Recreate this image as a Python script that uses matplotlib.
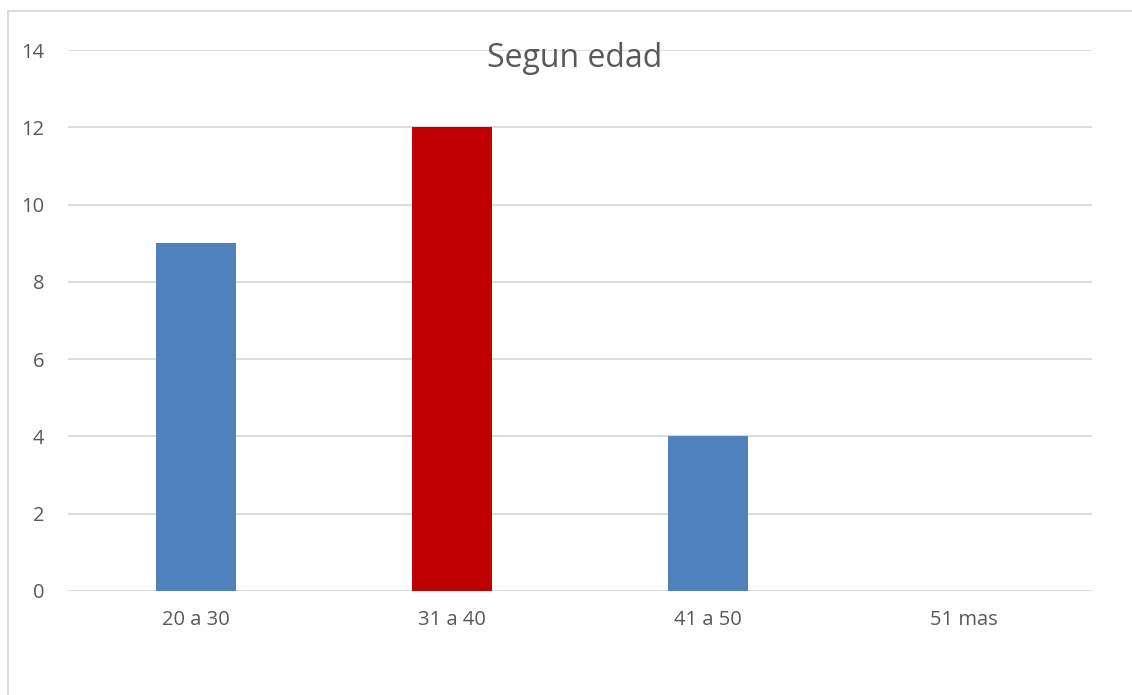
import matplotlib
matplotlib.use("Agg")
import matplotlib.pyplot as plt
from matplotlib.lines import Line2D

# data
categories = ["20 a 30", "31 a 40", "41 a 50", "51 mas"]
values = [9, 12, 4, 0]
bar_colors = ["#4f81bd", "#c00000", "#4f81bd", "#4f81bd"]
y_ticks = [0, 2, 4, 6, 8, 10, 12, 14]

text_color = "#595959"
grid_color = "#d9d9d9"

plt.rcParams["font.family"] = ["Open Sans", "DejaVu Sans"]

fig = plt.figure(figsize=(11.32, 6.95), dpi=100)
ax = fig.add_axes([68 / 1132, 1 - 591 / 695, 1024 / 1132, 541 / 695])

x = range(len(categories))
ax.bar(x, values, width=0.3125, color=bar_colors, zorder=2)

ax.set_xlim(-0.5, 3.5)
ax.set_ylim(0, 14)
ax.set_yticks(y_ticks)
ax.set_xticks(list(x))
ax.set_xticklabels(categories)
ax.grid(axis="y", color=grid_color, linewidth=1.3, zorder=0)
ax.set_axisbelow(True)
for s in ax.spines.values():
    s.set_visible(False)
ax.tick_params(axis="both", length=0, labelsize=14.5, colors=text_color)
ax.tick_params(axis="x", pad=14)
ax.tick_params(axis="y", pad=17)

# title sits over the top gridline
fig.text(575 / 1132, 1 - 67 / 695, "Segun edad", ha="center", va="baseline",
         fontsize=23, color=text_color)

# chart area border (top and left only visible)
fig.add_artist(Line2D([8 / 1132, 8 / 1132], [0, 1 - 11 / 695],
                      transform=fig.transFigure, color=grid_color, linewidth=1.3))
fig.add_artist(Line2D([8 / 1132, 1], [1 - 11 / 695, 1 - 11 / 695],
                      transform=fig.transFigure, color=grid_color, linewidth=1.3))

fig.savefig("out.png", dpi=100)
